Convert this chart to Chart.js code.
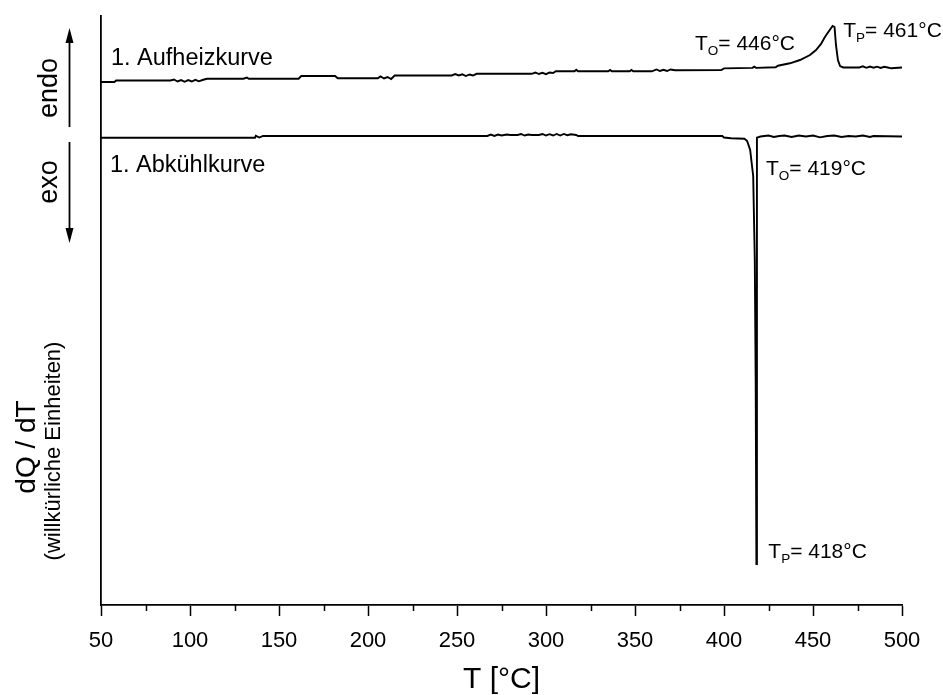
<!DOCTYPE html>
<html>
<head>
<meta charset="utf-8">
<script src="https://cdn.jsdelivr.net/npm/chart.js@4"></script>
<style>
  body { margin: 0; background: #fff; }
  canvas { display: block; }
</style>
</head>
<body>
<canvas id="dsc" width="943" height="695"></canvas>
<script>
// 1. Aufheizkurve (heating), T in °C, dQ/dT in arbitrary units
const heatT = [50, 57.5, 58.5, 89, 91, 93, 95, 97, 99, 101, 103, 105, 107, 109, 109.6, 130, 132, 133, 161,
  162.5, 181.5, 183, 205.5, 207, 209, 211, 213, 215, 247, 249, 251, 253, 255, 257, 259, 261, 292, 294, 296,
  298, 300, 302, 304, 305.5, 316, 317, 318, 335, 336, 337, 347, 348, 349, 359.5, 362, 364, 366, 368, 370,
  372.5, 398.5, 400, 416, 417, 418, 429, 430.3, 437, 442.7, 448.3, 451.7, 454.5, 456.7, 459, 461, 462.1,
  462.9, 464, 465.2, 467, 476, 478, 480, 482, 484, 486, 488, 490, 492, 494, 500];
const heatV = [88.80, 88.80, 89.05, 89.05, 89.22, 88.88, 89.13, 88.83, 89.13, 88.88, 89.17, 88.91, 89.13,
  89.30, 89.35, 89.35, 89.56, 89.35, 89.35, 89.81, 89.81, 89.42, 89.42, 89.73, 89.39, 89.64, 89.30, 89.90,
  89.90, 90.15, 89.90, 90.10, 89.81, 90.07, 89.90, 90.19, 90.19, 90.41, 90.15, 90.36, 90.12, 90.41, 90.32,
  90.61, 90.61, 90.87, 90.61, 90.61, 90.83, 90.61, 90.61, 90.83, 90.61, 90.61, 90.92, 90.66, 90.87, 90.66,
  90.92, 90.80, 90.83, 91.10, 91.20, 91.40, 91.20, 91.29, 91.56, 91.97, 92.53, 93.38, 94.23, 95.25, 96.43,
  97.45, 98.30, 98.13, 95.08, 92.53, 91.51, 91.26, 91.26, 91.45, 91.20, 91.42, 91.22, 91.40, 91.18, 91.38,
  91.26, 91.12, 91.26];

// 1. Abkühlkurve (cooling)
const coolT = [50, 136.5, 137, 139, 141, 267, 269, 271, 273, 275, 278, 280, 284, 286, 288, 290, 292, 296,
  298, 300, 302, 304, 306, 308, 310, 312, 314, 317, 318, 399, 400, 404, 411.5, 413, 414.7, 416.4, 417.3,
  417.8, 418.2, 418.5, 420.5, 425, 428, 431, 434, 438, 442, 446, 450, 454, 458, 462, 466, 470, 474, 478,
  482, 484, 500];
const coolV = [79.34, 79.34, 79.66, 79.37, 79.63, 79.63, 79.88, 79.63, 79.88, 79.71, 79.88, 79.80, 79.80,
  79.97, 79.71, 79.88, 79.80, 79.80, 79.97, 79.71, 79.93, 79.71, 79.97, 79.71, 79.97, 79.76, 79.92, 79.80,
  79.63, 79.63, 79.37, 79.24, 79.17, 78.78, 77.25, 72.84, 58.57, 38.20, 6.96, 79.34, 79.54, 79.71, 79.46,
  79.63, 79.71, 79.46, 79.71, 79.54, 79.71, 79.40, 79.63, 79.71, 79.46, 79.63, 79.54, 79.71, 79.46, 79.63,
  79.54];

const xTicks = [50, 100, 150, 200, 250, 300, 350, 400, 450, 500];
const xMinorTicks = [75, 125, 175, 225, 275, 325, 375, 425, 475];

// text labels placed in data coordinates: [T, value, main, sub, rest]
const notes = [
  [55.6, 91.68, '1. Aufheizkurve', '', ''],
  [55.0, 73.50, '1. Abkühlkurve', '', ''],
  [383.7, 94.20, 'T', 'O', '= 446°C'],
  [467.0, 96.50, 'T', 'P', '= 461°C'],
  [423.6, 73.00, 'T', 'O', '= 419°C'],
  [424.9, 7.93, 'T', 'P', '= 418°C']
];

const FONT = '"Liberation Sans", Arial, sans-serif';

const toPoints = (xs, ys) => xs.map((x, i) => ({ x: x, y: ys[i] }));

const extras = {
  id: 'extras',
  afterDraw(chart) {
    const ctx = chart.ctx;
    const xs = chart.scales.x, ys = chart.scales.y;
    ctx.save();
    ctx.fillStyle = '#000';
    ctx.strokeStyle = '#000';

    // minor ticks
    ctx.lineWidth = 1.5;
    xMinorTicks.forEach(t => {
      const px = Math.round(xs.getPixelForValue(t)) + 0.5;
      ctx.beginPath();
      ctx.moveTo(px, ys.bottom);
      ctx.lineTo(px, ys.bottom + 6);
      ctx.stroke();
    });

    // curve labels
    ctx.textBaseline = 'alphabetic';
    ctx.textAlign = 'left';
    notes.forEach(n => {
      let px = xs.getPixelForValue(n[0]);
      const py = ys.getPixelForValue(n[1]);
      if (!n[3]) {
        ctx.font = '23.5px ' + FONT;
        ctx.fillText(n[2], px, py);
        return;
      }
      ctx.font = '21px ' + FONT;
      ctx.fillText(n[2], px, py);
      px += ctx.measureText(n[2]).width;
      ctx.font = '13.5px ' + FONT;
      ctx.fillText(n[3], px, py + 5);
      px += ctx.measureText(n[3]).width;
      ctx.font = '21px ' + FONT;
      ctx.fillText(n[4], px, py);
    });

    // y axis title, two lines
    ctx.textAlign = 'center';
    ctx.save();
    ctx.translate(35, 447);
    ctx.rotate(-Math.PI / 2);
    ctx.font = '28px ' + FONT;
    ctx.fillText('dQ / dT', 0, 0);
    ctx.restore();
    ctx.save();
    ctx.translate(60, 451);
    ctx.rotate(-Math.PI / 2);
    ctx.font = '22px ' + FONT;
    ctx.fillText('(willkürliche Einheiten)', 0, 0);
    ctx.restore();

    // endo / exo with arrows
    ctx.font = '27px ' + FONT;
    [['endo', 88], ['exo', 182]].forEach(([t, cy]) => {
      ctx.save();
      ctx.translate(57, cy);
      ctx.rotate(-Math.PI / 2);
      ctx.fillText(t, 0, 0);
      ctx.restore();
    });
    ctx.lineWidth = 1.8;
    const ax = 69.5;
    ctx.beginPath();
    ctx.moveTo(ax, 127); ctx.lineTo(ax, 40);
    ctx.moveTo(ax, 142); ctx.lineTo(ax, 231);
    ctx.stroke();
    ctx.beginPath();
    ctx.moveTo(ax, 28); ctx.lineTo(ax - 4, 43); ctx.lineTo(ax + 4, 43); ctx.closePath();
    ctx.moveTo(ax, 243); ctx.lineTo(ax - 4, 228); ctx.lineTo(ax + 4, 228); ctx.closePath();
    ctx.fill();
    ctx.restore();
  }
};

new Chart(document.getElementById('dsc'), {
  type: 'line',
  data: {
    datasets: [
      { label: '1. Aufheizkurve', data: toPoints(heatT, heatV) },
      { label: '1. Abkühlkurve', data: toPoints(coolT, coolV) }
    ]
  },
  options: {
    responsive: false,
    animation: false,
    events: [],
    layout: { padding: { top: 16, right: 41, left: 0, bottom: 0 } },
    elements: {
      line: { borderColor: '#000', borderWidth: 1.9, tension: 0 },
      point: { radius: 0 }
    },
    plugins: { legend: { display: false }, tooltip: { enabled: false } },
    scales: {
      x: {
        type: 'linear',
        min: 50,
        max: 500,
        afterFit: s => { s.height = 90; },
        afterBuildTicks: s => { s.ticks = xTicks.map(v => ({ value: v })); },
        grid: { display: true, drawOnChartArea: false, drawTicks: true, tickLength: 11, tickColor: '#000', tickWidth: 1.5 },
        border: { display: true, color: '#000', width: 1.8 },
        ticks: { color: '#000', padding: 12, maxRotation: 0, font: { family: FONT, size: 22 } },
        title: { display: true, text: 'T [°C]', color: '#000', padding: 0, font: { family: FONT, size: 30, lineHeight: 1 } }
      },
      y: {
        type: 'linear',
        min: 0,
        max: 100,
        afterFit: s => { s.width = 101; },
        grid: { display: false },
        border: { display: true, color: '#000', width: 1.8 },
        ticks: { display: false }
      }
    }
  },
  plugins: [extras]
});
</script>
</body>
</html>
